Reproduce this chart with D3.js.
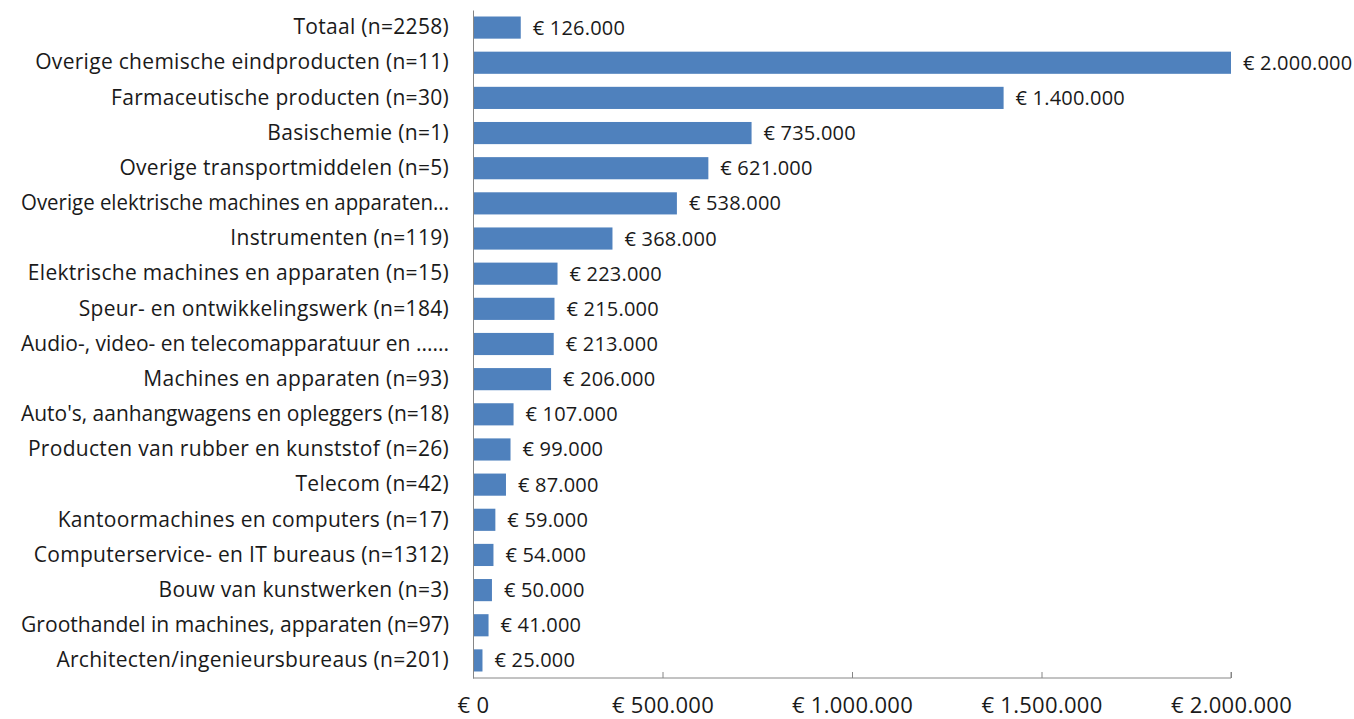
<!DOCTYPE html>
<html>
<head>
<meta charset="utf-8">
<script src="https://cdn.jsdelivr.net/npm/d3@7"></script>
<style>
  body { margin: 0; background: #fff; }
  text { font-family: "Open Sans", sans-serif; fill: #1a1a1a; }
</style>
</head>
<body>
<div id="container"></div>
<script>
/* DATA */
const categories = [
  "Totaal (n=2258)",
  "Overige chemische eindproducten (n=11)",
  "Farmaceutische producten (n=30)",
  "Basischemie (n=1)",
  "Overige transportmiddelen (n=5)",
  "Overige elektrische machines en apparaten...",
  "Instrumenten (n=119)",
  "Elektrische machines en apparaten (n=15)",
  "Speur- en ontwikkelingswerk (n=184)",
  "Audio-, video- en telecomapparatuur en ......",
  "Machines en apparaten (n=93)",
  "Auto's, aanhangwagens en opleggers (n=18)",
  "Producten van rubber en kunststof (n=26)",
  "Telecom (n=42)",
  "Kantoormachines en computers (n=17)",
  "Computerservice- en IT bureaus (n=1312)",
  "Bouw van kunstwerken (n=3)",
  "Groothandel in machines, apparaten (n=97)",
  "Architecten/ingenieursbureaus (n=201)"
];
const values = [126000, 2000000, 1400000, 735000, 621000, 538000, 368000, 223000,
  215000, 213000, 206000, 107000, 99000, 87000, 59000, 54000, 50000, 41000, 25000];
const tickValues = [0, 500000, 1000000, 1500000, 2000000];

/* CONSTANTS */
const width = 1354, height = 719,
  margin = { top: 10, right: 123, bottom: 41, left: 473 },
  maxLabel = 428;

const nl = d3.formatLocale({ decimal: ",", thousands: ".", grouping: [3], currency: ["€ ", ""] });
const euro = v => "€ " + nl.format(",")(v);

const svg = d3.select("#container")
  .append("svg")
  .attr("width", width)
  .attr("height", height);

const xScale = d3.scaleLinear()
  .domain([0, 2000000])
  .range([margin.left, width - margin.right]);

const yScale = d3.scaleBand()
  .domain(categories)
  .range([margin.top, height - margin.bottom])
  .paddingInner(0.37)
  .paddingOuter(0.185);

// bars
svg.selectAll("rect.bar")
  .data(values)
  .join("rect")
  .attr("class", "bar")
  .attr("x", xScale(0))
  .attr("y", (d, i) => yScale(categories[i]))
  .attr("width", d => xScale(d) - xScale(0))
  .attr("height", yScale.bandwidth())
  .attr("fill", "#4f81bd");

// value labels
svg.selectAll("text.val")
  .data(values)
  .join("text")
  .attr("class", "val")
  .attr("x", d => xScale(d) + 12)
  .attr("y", (d, i) => yScale(categories[i]) + yScale.bandwidth() / 2)
  .attr("dy", "0.35em")
  .style("font-size", "20px")
  .style("letter-spacing", "0.2px")
  .text(d => euro(d));

// y axis
const yAxis = d3.axisLeft(yScale).tickSize(0).tickPadding(24);
const gy = svg.append("g")
  .attr("transform", `translate(${margin.left},0)`)
  .call(yAxis);
gy.select(".domain").attr("stroke", "#868686").attr("stroke-width", 1);
gy.selectAll("text")
  .style("font-size", "21px")
  .style("letter-spacing", "0.3px")
  .each(function() {
    // squeeze the long truncated labels so they stay on the page
    if (this.getComputedTextLength() > maxLabel) {
      d3.select(this).style("letter-spacing", null)
        .attr("textLength", maxLabel)
        .attr("lengthAdjust", "spacingAndGlyphs");
    }
  });

// x axis
const xAxis = d3.axisBottom(xScale)
  .tickValues(tickValues)
  .tickSize(-6)
  .tickPadding(19)
  .tickFormat(euro);
const gx = svg.append("g")
  .attr("transform", `translate(0,${height - margin.bottom})`)
  .call(xAxis);
gx.select(".domain").attr("stroke", "#868686").attr("d", `M${xScale(0)},0H${xScale(2000000)}V-6`);
gx.selectAll(".tick line").attr("stroke", "#868686");
gx.selectAll("text").style("font-size", "22px").style("letter-spacing", "0.3px");
</script>
</body>
</html>
